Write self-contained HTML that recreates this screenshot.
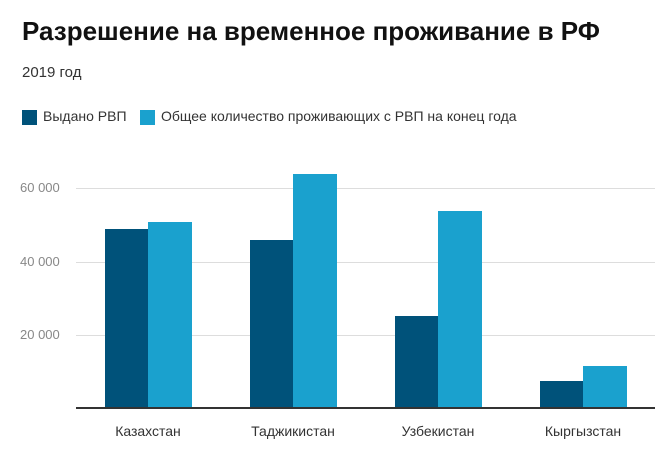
<!DOCTYPE html>
<html><head><meta charset="utf-8"><style>
body{margin:0;width:658px;height:450px;background:#fff;font-family:"Liberation Sans",Arial,sans-serif;overflow:hidden;position:relative}
.t{position:absolute;left:22px;top:16px;font-size:26px;font-weight:bold;color:#111}
.s{position:absolute;left:22px;top:64px;font-size:15px;color:#333}
.lg{position:absolute;top:108px;font-size:14px;color:#333}
.sw{position:absolute;top:110px;width:15px;height:15px}
.yl{position:absolute;left:20px;font-size:13px;color:#888}
.g{position:absolute;left:76px;width:579px;height:1px;background:#ddd}
.b{position:absolute}
.d{background:#00527a}.l{background:#1aa1ce}
.xl{position:absolute;top:423px;font-size:14px;color:#333;width:140px;text-align:center}
</style></head><body>
<div class="t">Разрешение на временное проживание в РФ</div>
<div class="s">2019 год</div>
<div class="sw d" style="left:22px"></div><div class="lg" style="left:43px">Выдано РВП</div>
<div class="sw l" style="left:140px"></div><div class="lg" style="left:161px">Общее количество проживающих с РВП на конец года</div>
<div class="g" style="top:188px"></div><div class="yl" style="top:180px">60 000</div>
<div class="g" style="top:262px"></div><div class="yl" style="top:254px">40 000</div>
<div class="g" style="top:335px"></div><div class="yl" style="top:327px">20 000</div>
<div class="b d" style="left:105px;width:43px;top:229px;height:179px"></div>
<div class="b l" style="left:148px;width:44px;top:222px;height:186px"></div>
<div class="b d" style="left:250px;width:43px;top:240px;height:168px"></div>
<div class="b l" style="left:293px;width:44px;top:174px;height:234px"></div>
<div class="b d" style="left:395px;width:43px;top:316px;height:92px"></div>
<div class="b l" style="left:438px;width:44px;top:211px;height:197px"></div>
<div class="b d" style="left:540px;width:43px;top:381px;height:27px"></div>
<div class="b l" style="left:583px;width:44px;top:366px;height:42px"></div>
<div style="position:absolute;left:76px;top:407px;width:579px;height:2px;background:#333"></div>
<div class="xl" style="left:78px">Казахстан</div>
<div class="xl" style="left:223px">Таджикистан</div>
<div class="xl" style="left:368px">Узбекистан</div>
<div class="xl" style="left:513px">Кыргызстан</div>
</body></html>
